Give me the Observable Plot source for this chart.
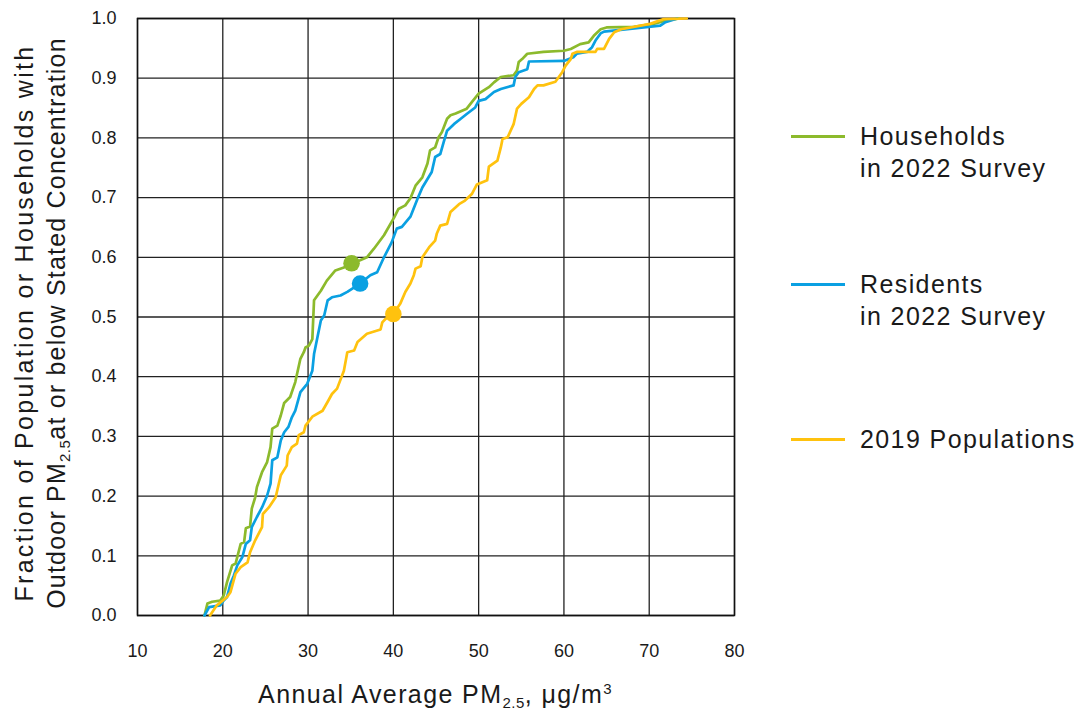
<!DOCTYPE html>
<html>
<head>
<meta charset="utf-8">
<script src="https://cdn.jsdelivr.net/npm/d3@7"></script>
<script src="https://cdn.jsdelivr.net/npm/@observablehq/plot@0.6"></script>
<style>
  html, body { margin: 0; padding: 0; background: #fff; }
  #chart { position: relative; width: 1078px; height: 713px; font-family: "Liberation Sans", Arial, sans-serif; color: #1a1a1a; }
  #chart svg { position: absolute; left: 0; top: 0; }
  .ytitle { position: absolute; width: 640px; left: -279.7px; top: 291px; height: 64px;
            transform: rotate(-90deg); transform-origin: center; text-align: center;
            font-size: 25px; line-height: 32px; white-space: nowrap; }
  .ytitle .l1 { letter-spacing: 2.3px; }
  .ytitle .l2 { letter-spacing: 1.2px; }
  .xtitle { position: absolute; left: 137px; width: 597px; top: 680px; text-align: center;
            font-size: 25px; line-height: 28px; letter-spacing: 1.4px; white-space: nowrap; }
  .sub { font-size: 15px; position: relative; top: 5px; letter-spacing: 0.5px; }
  .sup { font-size: 15px; position: relative; top: -9px; }
  .item { position: absolute; left: 791px; }
  .swatch { position: absolute; left: 0; width: 54px; height: 3px; }
  .label { position: absolute; left: 69px; white-space: nowrap; font-size: 25px; line-height: 32px; letter-spacing: 1.4px; }
</style>
</head>
<body>
<div id="chart"></div>
<script>
// Cumulative fraction at or below a given annual-average PM2.5 (µg/m³)
const seriesNames = ["Households in 2022 Survey", "Residents in 2022 Survey", "2019 Populations"];
const seriesColors = ["#8cba2c", "#0aa0e2", "#ffc20e"];
const legendLines = [["Households", "in 2022 Survey"], ["Residents", "in 2022 Survey"], ["2019 Populations"]];

const householdsPM = [17.85,18.2,18.75,19.7,20.1,20.5,21.1,21.5,22.1,22.5,22.7,23.2,23.4,23.8,24.0,24.6,25.2,25.6,25.8,26.4,26.8,27.2,27.9,28.5,29.1,29.5,29.7,30.1,30.5,30.7,31.5,32.2,33.2,34.2,35.1,36.1,36.9,37.7,38.9,40.1,40.6,41.4,42.0,42.6,43.4,44.0,44.3,44.9,45.3,45.7,46.3,46.7,47.3,48.6,49.2,50.0,51.2,51.8,52.6,54.1,54.5,54.7,55.1,55.7,57.6,60.0,60.8,61.9,62.9,63.5,64.3,65.0,68.2,70.5,72.1,73.5];
const householdsFrac = [0,0.02,0.023,0.025,0.033,0.056,0.084,0.087,0.12,0.123,0.146,0.149,0.179,0.198,0.215,0.24,0.257,0.282,0.313,0.318,0.335,0.356,0.366,0.391,0.43,0.441,0.449,0.452,0.463,0.528,0.544,0.561,0.578,0.583,0.59,0.595,0.6,0.614,0.637,0.667,0.681,0.687,0.699,0.72,0.734,0.757,0.779,0.784,0.801,0.81,0.832,0.838,0.841,0.849,0.86,0.874,0.885,0.893,0.902,0.905,0.913,0.927,0.932,0.941,0.944,0.946,0.949,0.957,0.96,0.971,0.982,0.985,0.986,0.991,0.997,1.0];

const residentsPM = [17.85,18.4,19.7,20.1,20.5,20.9,21.3,21.7,22.3,22.7,23.2,23.4,24.0,24.6,25.2,25.6,25.8,26.4,26.8,27.2,27.7,28.1,28.5,29.1,29.9,30.5,30.7,31.1,31.5,31.9,32.3,32.8,33.8,34.6,36.1,37.3,38.1,38.9,39.8,40.4,41.0,42.0,42.8,43.4,44.5,44.9,45.5,45.9,46.3,47.1,47.9,48.6,49.6,50.0,50.8,51.8,52.6,54.1,54.3,54.7,55.7,55.9,60.0,61.1,61.5,62.7,63.3,63.7,64.3,64.7,71.3,71.9,73.3];
const residentsFrac = [0,0.014,0.017,0.025,0.031,0.053,0.067,0.084,0.098,0.12,0.126,0.148,0.165,0.181,0.201,0.221,0.26,0.265,0.293,0.307,0.316,0.332,0.343,0.374,0.388,0.41,0.438,0.466,0.494,0.503,0.528,0.533,0.536,0.542,0.556,0.57,0.575,0.6,0.625,0.648,0.651,0.668,0.697,0.717,0.743,0.768,0.773,0.793,0.812,0.823,0.832,0.84,0.851,0.862,0.865,0.877,0.882,0.888,0.902,0.91,0.915,0.928,0.929,0.935,0.941,0.944,0.952,0.963,0.975,0.978,0.988,0.994,1.0];

const pop2019PM = [18.5,19.3,20.5,20.9,21.5,22.1,22.9,23.2,23.8,24.6,24.7,25.4,26.2,26.8,27.5,27.6,28.1,28.7,28.9,29.5,29.7,30.5,31.7,32.3,32.8,33.4,34.2,34.6,35.4,35.8,36.9,38.5,38.7,39.1,40.0,40.8,41.4,42.0,42.4,42.6,43.2,43.4,44.2,44.9,45.1,45.5,46.3,46.7,47.7,48.4,49.2,49.8,51.0,51.2,52.2,52.6,52.8,53.4,54.1,54.5,55.0,55.9,56.5,56.9,57.6,59.0,59.4,59.8,60.2,60.8,61.0,61.5,63.7,63.9,64.7,65.3,65.9,66.7,70.1,71.7,74.4];
const pop2019Frac = [0,0.017,0.031,0.039,0.07,0.081,0.089,0.106,0.126,0.148,0.17,0.181,0.198,0.235,0.251,0.268,0.282,0.288,0.302,0.307,0.318,0.333,0.343,0.358,0.371,0.38,0.41,0.441,0.444,0.458,0.472,0.479,0.491,0.497,0.505,0.522,0.542,0.556,0.57,0.581,0.585,0.6,0.617,0.628,0.64,0.653,0.656,0.676,0.689,0.695,0.706,0.722,0.729,0.752,0.762,0.784,0.798,0.801,0.823,0.849,0.857,0.868,0.882,0.888,0.888,0.894,0.902,0.91,0.921,0.932,0.941,0.944,0.944,0.949,0.949,0.966,0.977,0.982,0.991,0.999,1.0];

// Highlighted point on each curve
const markerPM = [35.1, 36.1, 40.0];
const markerFrac = [0.59, 0.556, 0.505];

const xTicks = [10, 20, 30, 40, 50, 60, 70, 80];
const yTicks = [0, 0.1, 0.2, 0.3, 0.4, 0.5, 0.6, 0.7, 0.8, 0.9, 1.0];

const curves = [[householdsPM, householdsFrac], [residentsPM, residentsFrac], [pop2019PM, pop2019Frac]];
const rows = curves.flatMap(([xs, ys], i) => xs.map((pm, j) => ({series: seriesNames[i], pm, frac: ys[j]})));
const markers = seriesNames.map((series, i) => ({series, pm: markerPM[i], frac: markerFrac[i]}));

const plot = Plot.plot({
  width: 760,
  height: 668,
  marginTop: 18,
  marginLeft: 137,
  marginRight: 26,
  marginBottom: 53,
  style: {fontFamily: "'Liberation Sans', Arial, sans-serif", fontSize: "18px", color: "#1a1a1a", background: "transparent"},
  x: {domain: [10, 80], label: null},
  y: {domain: [0, 1], label: null},
  color: {domain: seriesNames, range: seriesColors},
  marks: [
    Plot.gridX(xTicks, {stroke: "#222", strokeOpacity: 1, strokeWidth: 1.3}),
    Plot.gridY(yTicks, {stroke: "#222", strokeOpacity: 1, strokeWidth: 1.3}),
    Plot.frame({stroke: "#111", strokeWidth: 1.5}),
    Plot.axisX(xTicks, {tickSize: 0, tickPadding: 29, fontSize: 18, tickFormat: d => String(d)}),
    Plot.axisY(yTicks, {tickSize: 0, tickPadding: 21, fontSize: 18, tickFormat: d => d.toFixed(1)}),
    Plot.line(rows, {x: "pm", y: "frac", z: "series", stroke: "series", strokeWidth: 2.7, strokeLinejoin: "round"}),
    Plot.dot(markers, {x: "pm", y: "frac", fill: "series", r: 8.3})
  ]
});

const chart = document.getElementById("chart");
chart.appendChild(plot);

// Axis titles with sub/superscripts
const yt = document.createElement("div");
yt.className = "ytitle";
yt.innerHTML = "<span class='l1'>Fraction of Population or Households with</span><br>" +
  "<span class='l2'>Outdoor PM<span class='sub'>2.5</span>at or below Stated Concentration</span>";
chart.appendChild(yt);

const xt = document.createElement("div");
xt.className = "xtitle";
xt.innerHTML = "Annual Average PM<span class='sub'>2.5</span>, μg/m<span class='sup'>3</span>";
chart.appendChild(xt);

// Legend, one entry per series
const legendCenters = [136, 284, 439];
seriesNames.forEach((name, i) => {
  const item = document.createElement("div");
  item.className = "item";
  item.style.top = legendCenters[i] + "px";
  const sw = document.createElement("div");
  sw.className = "swatch";
  sw.style.background = seriesColors[i];
  sw.style.top = "-1.5px";
  const lab = document.createElement("div");
  lab.className = "label";
  lab.style.top = "-15.7px";
  lab.innerHTML = legendLines[i].join("<br>");
  item.appendChild(sw);
  item.appendChild(lab);
  chart.appendChild(item);
});
</script>
</body>
</html>
